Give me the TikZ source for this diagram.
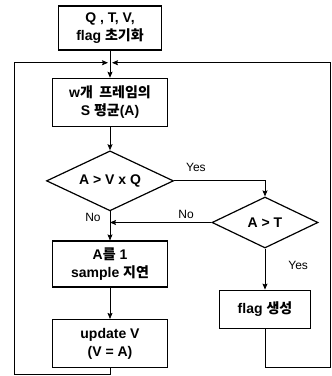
\documentclass[tikz,border=0pt]{standalone}
\usepackage{fontspec}
\setmainfont{Liberation Sans}
\newfontfamily\kr{Noto Sans CJK KR}
\usetikzlibrary{shapes.geometric, arrows.meta, positioning}

\begin{document}
\begin{tikzpicture}[
    x=1pt, y=1pt,
    s/.style={rectangle, draw, line width=1.5pt, minimum width=115pt, minimum height=46pt, align=center, inner sep=1pt, font=\fontsize{14}{18}\selectfont\bfseries},
    dec/.style={diamond, draw, line width=1.2pt, inner sep=0pt, aspect=2.1, font=\fontsize{14}{16}\selectfont\bfseries},
    lbl/.style={font=\fontsize{12}{14}\selectfont, inner sep=1pt},
    arrow/.style={line width=0.8pt,->,>={Stealth[length=6pt,width=5pt,inset=1pt]}}]
    \useasboundingbox (0,0) rectangle (332,-376);
    \node[s, minimum width=103pt, minimum height=44pt] (init) at (110,-28) {Q , T, V,\\flag {\kr 초기화}};
    \coordinate[below=12pt of init] (merge);
    \node[s, minimum height=48pt, below=27pt of init] (avg) {w{\kr 개 \ 프레임의}\\S {\kr 평균}(A)};
    \node[dec, minimum width=127pt, minimum height=60pt, below=23pt of avg] (c1) {A > V x Q};
    \node[s, below=29pt of c1] (delay) {A{\kr 를} 1\\sample {\kr 지연}};
    \node[s, minimum height=48pt, below=31pt of delay] (upd) {update V\\(V = A)};
    \node[dec, minimum width=106pt, minimum height=51pt] (c2) at (265,-222.5) {A > T};
    \node[s, minimum width=91pt, minimum height=38pt, below=41pt of c2] (flag) {flag {\kr 생성}};
    \draw[arrow] (init) -- (avg); \draw[arrow] (avg) -- (c1);
    \draw[arrow] (c1) -- node[lbl, pos=0.2, left=8pt]{No} (delay); \draw[arrow] (delay) -- (upd);
    \draw[arrow] (c1.east) -| node[lbl, pos=0.12, above=8pt]{Yes} (c2.north);
    \draw[arrow] (c2.west) -- node[lbl, pos=0.25, above=2pt]{No} (c2.west -| c1.south);
    \draw[arrow] (c2) -- node[lbl, pos=0.4, right=22pt]{Yes} (flag);
    \draw[arrow] (upd.south) -- ++(0pt,-6pt) -| ([xshift=-96pt]merge) -- ([xshift=-2pt]merge);
    \draw[arrow] (flag.south) -- ++(0pt,-38pt) -| ([xshift=220pt]merge) -- ([xshift=2pt]merge);
\end{tikzpicture}
\end{document}
